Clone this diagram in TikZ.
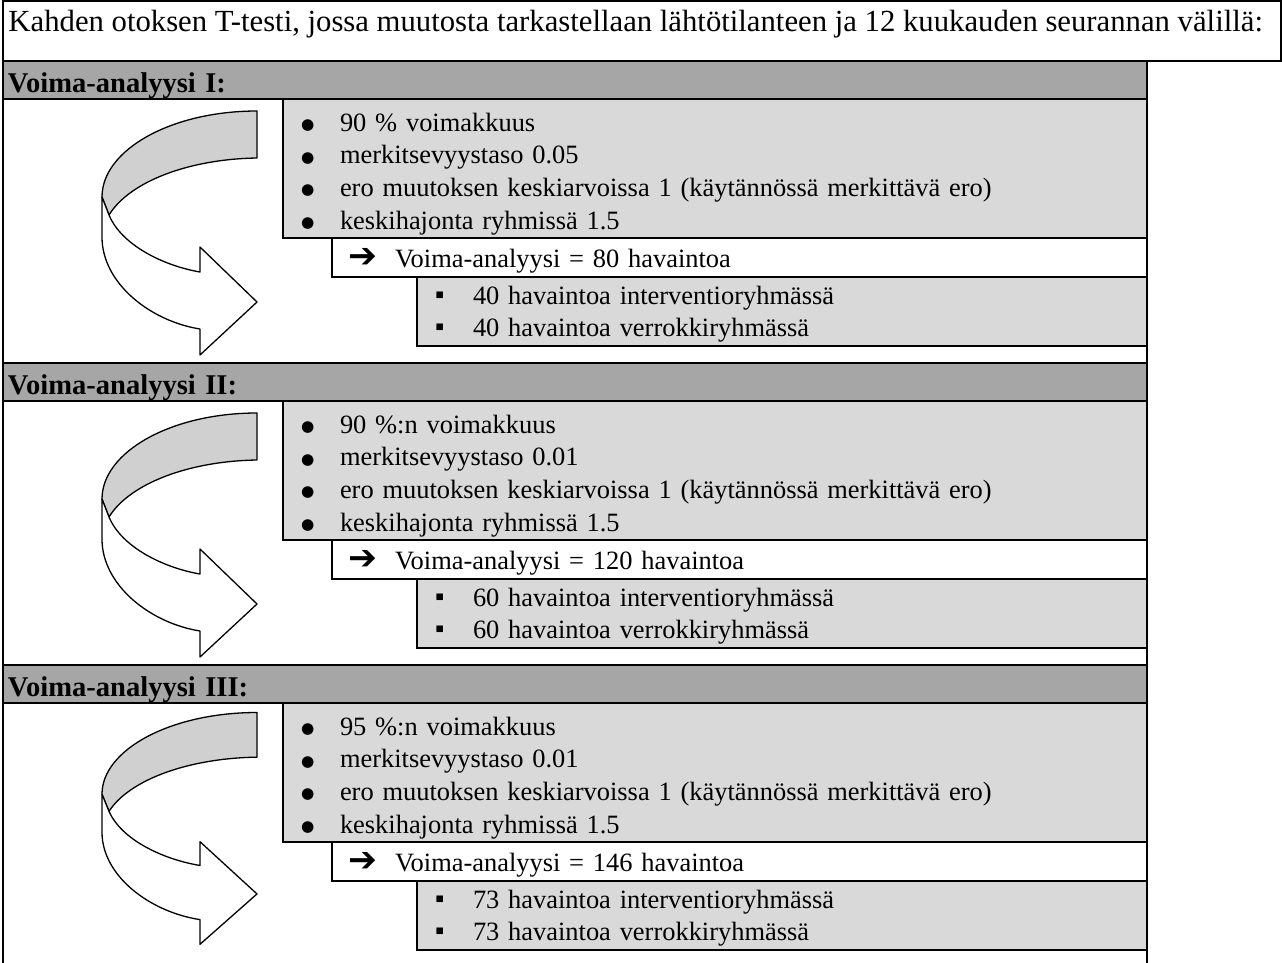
\documentclass[tikz,border=0pt]{standalone}
\usepackage{fontspec}
\setmainfont{Liberation Serif}
\newfontfamily\symfont{DejaVu Sans}
\usetikzlibrary{positioning}
\newlength\pix
\setlength\pix{0.42pt}
\definecolor{headgray}{HTML}{A6A6A6}
\definecolor{boxgray}{HTML}{D9D9D9}
\definecolor{bandgray}{HTML}{D0D0D0}
\newcommand\itm[1]{\makebox[39\pix][l]{\raisebox{0.7pt}{\symfont\fontsize{6.4}{7}\selectfont ●}}#1}
\newcommand\sqitm[1]{\makebox[38\pix][l]{\raisebox{0.1ex}{▪}}#1}
\newcommand\resitm[1]{\makebox[47\pix][l]{\symfont\fontsize{14.5}{14}\selectfont ➔}#1}
\tikzset{
  frame/.style={line width=2.4\pix},
  cellbox/.style={
    rectangle, draw, frame, outer sep=0pt, anchor=north west,
    font=\fontsize{11.1}{13.7}\selectfont, align=left,
    inner ysep=0pt
  },
  headbar/.style={
    cellbox, fill=headgray, font=\fontsize{12}{13.7}\selectfont\bfseries,
    minimum width=1144\pix, minimum height=38\pix, text height=13pt,
    inner xsep=5\pix, text width=1134\pix
  },
  itemsbox/.style={
    cellbox, fill=boxgray, minimum width=864\pix, minimum height=139\pix,
    text height=12.3pt, inner xsep=18\pix, text width=828\pix
  },
  powerbox/.style={
    cellbox, fill=white, minimum width=815\pix, minimum height=39\pix,
    text height=10.8pt, inner xsep=16\pix, text width=783\pix
  },
  groupsbox/.style={
    cellbox, fill=boxgray, minimum width=730\pix, minimum height=69\pix,
    text height=10pt, inner xsep=18\pix, text width=694\pix
  },
  arrowline/.style={line width=1.3\pix, line join=round},
  uturn/.pic={
    % back side of the band
    \filldraw[arrowline, fill=bandgray] (257,50) .. controls (171,50) and (102,89) .. (102,136)
      -- (109,154) .. controls (130,120) and (190,98) .. (257,97) -- cycle;
    % front side with the head
    \filldraw[arrowline, fill=white] (102,136) -- (102,176)
      .. controls (102,222) and (150,260) .. (200,268)
      -- (200,294) -- (257,241) -- (200,186) -- (200,211)
      .. controls (165,205) and (122,185) .. (109,154) -- cycle;
  },
}

\begin{document}
\begin{tikzpicture}[x=0.42pt, y=-0.42pt]

  \useasboundingbox[fill=white] (0,0) rectangle (1282,963);

  % title cell
  \node[anchor=west, inner sep=0pt, font=\fontsize{12.9}{14}\selectfont] (title) at (8,24)
    {Kahden otoksen T-testi, jossa muutosta tarkastellaan lähtötilanteen ja 12 kuukauden seurannan välillä:};

  % Analysis I
  \node[headbar] (head1) at (3,61) {Voima-analyysi I:};
  \node[itemsbox] (items1) at ([xshift=280\pix]head1.south west)
    {\itm{90 \% voimakkuus}\\ \itm{merkitsevyystaso 0.05}\\
     \itm{ero muutoksen keskiarvoissa 1 (käytännössä merkittävä ero)}\\ \itm{keskihajonta ryhmissä 1.5}};
  \node[powerbox] (power1) at ([xshift=49\pix]items1.south west) {\resitm{Voima-analyysi = 80 havaintoa}};
  \node[groupsbox] (groups1) at ([xshift=85\pix]power1.south west)
    {\sqitm{40 havaintoa interventioryhmässä}\\ \sqitm{40 havaintoa verrokkiryhmässä}};
  \pic at (0,61) {uturn};

  % Analysis II
  \node[headbar] (head2) at (3,363) {Voima-analyysi II:};
  \node[itemsbox] (items2) at ([xshift=280\pix]head2.south west)
    {\itm{90 \%:n voimakkuus}\\ \itm{merkitsevyystaso 0.01}\\
     \itm{ero muutoksen keskiarvoissa 1 (käytännössä merkittävä ero)}\\ \itm{keskihajonta ryhmissä 1.5}};
  \node[powerbox] (power2) at ([xshift=49\pix]items2.south west) {\resitm{Voima-analyysi = 120 havaintoa}};
  \node[groupsbox] (groups2) at ([xshift=85\pix]power2.south west)
    {\sqitm{60 havaintoa interventioryhmässä}\\ \sqitm{60 havaintoa verrokkiryhmässä}};
  \pic at (0,363) {uturn};

  % Analysis III
  \node[headbar] (head3) at (3,665) {Voima-analyysi III:};
  \node[itemsbox] (items3) at ([xshift=280\pix]head3.south west)
    {\itm{95 \%:n voimakkuus}\\ \itm{merkitsevyystaso 0.01}\\
     \itm{ero muutoksen keskiarvoissa 1 (käytännössä merkittävä ero)}\\ \itm{keskihajonta ryhmissä 1.5}};
  \node[powerbox] (power3) at ([xshift=49\pix]items3.south west) {\resitm{Voima-analyysi = 146 havaintoa}};
  \node[groupsbox] (groups3) at ([xshift=85\pix]power3.south west)
    {\sqitm{73 havaintoa interventioryhmässä}\\ \sqitm{73 havaintoa verrokkiryhmässä}};
  \pic[yscale=0.95] at (0,665) {uturn};

  % outer frame
  \draw[frame] (3,1.2) -- (1280.8,1.2) -- (1280.8,61) -- (3,61);
  \draw[frame] (3,0) -- (3,963);
  \draw[frame] (1147,61) -- (1147,963);

\end{tikzpicture}
\end{document}
